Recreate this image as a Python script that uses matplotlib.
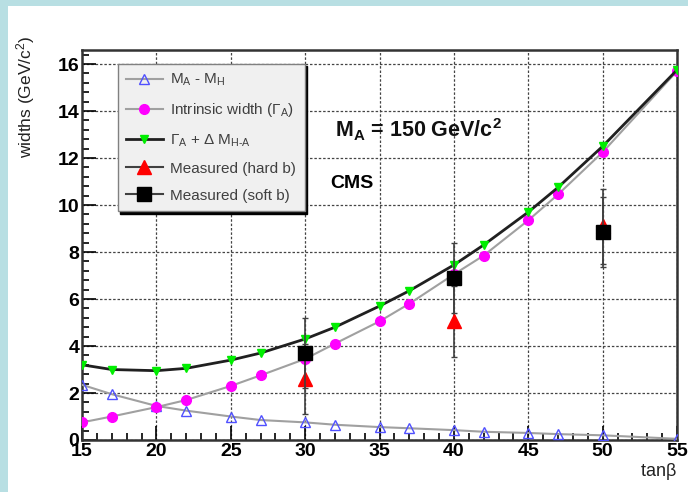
#!/usr/bin/env python3
"""
Widths vs tan(beta) for M_A = 150 GeV/c^2 (CMS)
"""
import matplotlib
matplotlib.use('Agg')
import matplotlib.pyplot as plt
from matplotlib.lines import Line2D
from matplotlib.ticker import MultipleLocator

plt.rcParams['font.family'] = ['Liberation Sans', 'DejaVu Sans']
plt.rcParams['mathtext.fontset'] = 'custom'
plt.rcParams['mathtext.rm'] = 'Liberation Sans'
plt.rcParams['mathtext.it'] = 'Liberation Sans'
plt.rcParams['mathtext.bf'] = 'Liberation Sans:bold'

# Data
tanb = [15, 17, 20, 22, 25, 27, 30, 32, 35, 37, 40, 42, 45, 47, 50, 55]
mass_diff = [2.35, 1.95, 1.45, 1.25, 1.0, 0.85, 0.75, 0.65, 0.55, 0.5,
             0.42, 0.35, 0.3, 0.25, 0.2, 0.05]
intrinsic = [0.75, 1.0, 1.4, 1.7, 2.3, 2.75, 3.45, 4.1, 5.05, 5.8,
             7.05, 7.85, 9.35, 10.45, 12.25, 15.7]
total = [3.2, 3.0, 2.95, 3.05, 3.4, 3.7, 4.3, 4.8, 5.7, 6.35,
         7.45, 8.3, 9.7, 10.75, 12.5, 15.75]

meas_x = [30, 40, 50]
hard_b = [2.6, 5.05, 9.1]
hard_err = [1.5, 1.5, 1.6]
soft_b = [3.7, 6.9, 8.85]
soft_err = [1.5, 1.5, 1.5]

fig = plt.figure(figsize=(6.88, 4.92), dpi=100)
fig.patch.set_facecolor('#b8dfe3')

# white canvas inside the light-blue frame
bg = fig.add_axes([8 / 688, 0, 1 - 8 / 688, 1 - 6 / 492], zorder=0)
bg.set_facecolor('white')
bg.set_xticks([])
bg.set_yticks([])
for sp in bg.spines.values():
    sp.set_visible(False)

ax = fig.add_axes([82 / 688, 52 / 492, (677 - 82) / 688, (440 - 50) / 492], zorder=2)
ax.set_facecolor('white')

# Curves
h1, = ax.plot(tanb, mass_diff, color='#a0a0a0', lw=1.5, zorder=3,
              marker='^', ms=7.5, mfc='none', mec='#5050ff', mew=1.0)
h2, = ax.plot(tanb, intrinsic, color='#a0a0a0', lw=1.5, zorder=3,
              marker='o', ms=7, mfc='#ff00ff', mec='#ff00ff')
h3, = ax.plot(tanb, total, color='#202020', lw=2.0, zorder=4,
              marker='v', ms=6, mfc='#00ee00', mec='#00ee00')

# Measurements
ax.errorbar(meas_x, hard_b, yerr=hard_err, fmt='^', color='#ff0000', ms=10,
            ecolor='#404040', elinewidth=1.2, capsize=2, zorder=5)
ax.errorbar(meas_x, soft_b, yerr=soft_err, fmt='s', color='black', ms=10,
            ecolor='#404040', elinewidth=1.2, capsize=2, zorder=6)

ax.set_xlim(15, 55)
ax.set_ylim(0, 16.6)
ax.xaxis.set_major_locator(MultipleLocator(5))
ax.xaxis.set_minor_locator(MultipleLocator(1))
ax.yaxis.set_major_locator(MultipleLocator(2))
ax.yaxis.set_minor_locator(MultipleLocator(0.4))
ax.tick_params(which='both', direction='in', width=1.2)
ax.tick_params(which='major', length=10)
ax.tick_params(which='minor', length=5)
ax.tick_params(axis='y', pad=2)
ax.tick_params(axis='x', pad=2)
for lab in ax.get_xticklabels() + ax.get_yticklabels():
    lab.set_fontsize(14)
    lab.set_fontweight('bold')

ax.grid(True, which='major', color='#444444', linestyle=(0, (2, 1.5)), lw=0.9)
ax.set_axisbelow(True)
for sp in ax.spines.values():
    sp.set_linewidth(1.8)
    sp.set_color('#333333')

fig.text(26 / 688, 1 - 36 / 492, r'widths (GeV/c$^\mathregular{2}$)', rotation=90,
         ha='center', va='top', fontsize=12.5, color='#222222')
ax.set_xlabel(r'tan$\mathregular{\beta}$', fontsize=13, loc='right', labelpad=1,
              color='#222222')

ax.text(0.425, 0.775, r'$\mathregular{M_A}$ = 150 GeV/c$^\mathregular{2}$',
        transform=ax.transAxes, fontsize=15.5, fontweight='bold', color='#111111')
ax.text(0.418, 0.645, 'CMS', transform=ax.transAxes, fontsize=14,
        fontweight='bold', color='black')

# legend with line+marker handles like the ROOT legend
handles = [
    h1, h2, h3,
    Line2D([], [], color='#404040', lw=1.5, marker='^', ms=10,
           mfc='#ff0000', mec='#ff0000'),
    Line2D([], [], color='#404040', lw=1.5, marker='s', ms=10,
           mfc='black', mec='black'),
]
labels = [
    r'$\mathregular{M_A}$ - $\mathregular{M_H}$',
    r'Intrinsic width ($\mathregular{\Gamma_A}$)',
    r'$\mathregular{\Gamma_A}$ + $\mathregular{\Delta\ M_{H\text{-}A}}$',
    'Measured (hard b)',
    'Measured (soft b)',
]
leg = ax.legend(handles, labels, loc='upper left', bbox_to_anchor=(0.06, 0.965),
                fontsize=11, frameon=True, fancybox=False, handlelength=2.4,
                labelspacing=0.85, borderpad=0.55, handletextpad=0.5,
                borderaxespad=0, shadow={'color': 'black', 'alpha': 1.0})
leg.get_frame().set_facecolor('#f0f0f0')
leg.get_frame().set_edgecolor('#808080')
leg.get_frame().set_alpha(1.0)
for t in leg.get_texts():
    t.set_color('#404040')

fig.savefig('out.png', dpi=100, facecolor=fig.get_facecolor())
